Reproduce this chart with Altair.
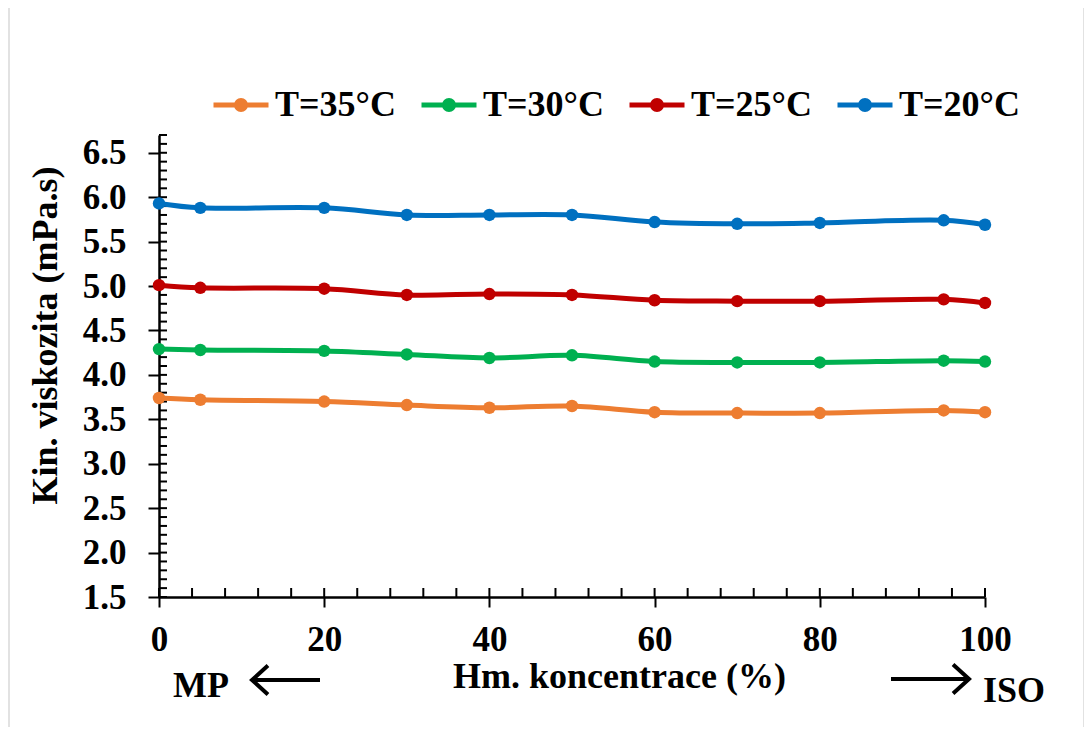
import altair as alt
import pandas as pd

# ---- data ----
conc = [0, 5, 20, 30, 40, 50, 60, 70, 80, 95, 100]
t35 = [3.74, 3.72, 3.70, 3.66, 3.63, 3.65, 3.58, 3.57, 3.57, 3.60, 3.58]
t30 = [4.29, 4.28, 4.27, 4.23, 4.19, 4.22, 4.15, 4.14, 4.14, 4.16, 4.15]
t25 = [5.01, 4.98, 4.97, 4.90, 4.91, 4.90, 4.84, 4.83, 4.83, 4.85, 4.81]
t20 = [5.93, 5.88, 5.88, 5.80, 5.80, 5.80, 5.72, 5.70, 5.71, 5.74, 5.69]
series_names = ["T=35°C", "T=30°C", "T=25°C", "T=20°C"]
series_colors = ["#ED7D31", "#00B050", "#C00000", "#0070C0"]

x_major = [0, 20, 40, 60, 80, 100]
y_major = [1.5, 2.0, 2.5, 3.0, 3.5, 4.0, 4.5, 5.0, 5.5, 6.0, 6.5]
x_minor = list(range(0, 101, 4))
y_minor = [round(1.5 + 0.1 * i, 1) for i in range(53)]

rows = []
for name, vals in zip(series_names, [t35, t30, t25, t20]):
    for c, v in zip(conc, vals):
        rows.append({"c": c, "v": v, "s": name})
df = pd.DataFrame(rows)

W, H = 826, 462
FONT = "Liberation Serif"

xscale = alt.Scale(domain=[0, 100], nice=False, zero=False)
yscale = alt.Scale(domain=[1.5, 6.7], nice=False, zero=False)
cscale = alt.Scale(domain=series_names, range=series_colors)

legend_path = ("M-1,0L1,0"
               "M-0.0727,0A0.0727,0.0727,0,1,0,0.0727,0A0.0727,0.0727,0,1,0,-0.0727,0"
               "M-0.1636,0A0.1636,0.1636,0,1,0,0.1636,0A0.1636,0.1636,0,1,0,-0.1636,0")

xaxis = alt.Axis(values=x_major, title="Hm. koncentrace (%)", titleX=460, titleY=90,
                 titleBaseline="alphabetic", titleAlign="center", labelFlush=False,
                 tickSize=10, labelPadding=15, format="d")
yaxis = alt.Axis(values=y_major, format=".1f", title="Kin. viskozita (mPa.s)",
                 titleAngle=-90, titleX=-114, titleY=200, titleAlign="center",
                 titleBaseline="middle", tickSize=11, labelPadding=22, labelFlush=False)

base = alt.Chart(df)
lines = base.mark_line(interpolate="catmull-rom", strokeWidth=5).encode(
    x=alt.X("c:Q", scale=xscale, axis=xaxis),
    y=alt.Y("v:Q", scale=yscale, axis=yaxis),
    color=alt.Color("s:N", scale=cscale, sort=series_names, legend=alt.Legend(
        title=None, orient="none", legendX=52, legendY=-60, direction="horizontal",
        columns=4, symbolType=legend_path, symbolSize=3025, symbolStrokeWidth=5,
        labelFont=FONT, labelFontSize=36, labelFontWeight="bold", labelColor="black",
        labelOffset=4, columnPadding=15)),
)
points = base.mark_circle(size=155, opacity=1).encode(
    x=alt.X("c:Q", scale=xscale),
    y=alt.Y("v:Q", scale=yscale),
    color=alt.Color("s:N", scale=cscale, legend=None),
)

yt = alt.Chart(pd.DataFrame({"v": y_minor})).mark_rule(color="black", strokeWidth=2).encode(
    y=alt.Y("v:Q", scale=yscale), x=alt.value(0), x2=alt.value(8))
xt = alt.Chart(pd.DataFrame({"c": x_minor})).mark_rule(color="black", strokeWidth=2).encode(
    x=alt.X("c:Q", scale=xscale), y=alt.value(H - 9), y2=alt.value(H))

one = pd.DataFrame({"a": [0]})
frame = alt.Chart(one).mark_rect(fillOpacity=0, stroke="#d9d9d9", strokeWidth=1.5).encode(
    x=alt.value(-150), x2=alt.value(925), y=alt.value(-131), y2=alt.value(640))
txt_style = dict(font=FONT, fontSize=36, fontWeight="bold", color="black", baseline="alphabetic")
mp = alt.Chart(one).mark_text(align="left", **txt_style).encode(
    x=alt.value(14), y=alt.value(562), text=alt.value("MP"))
iso = alt.Chart(one).mark_text(align="left", **txt_style).encode(
    x=alt.value(824), y=alt.value(567), text=alt.value("ISO"))
shaft_l = alt.Chart(one).mark_rule(color="black", strokeWidth=4).encode(
    x=alt.value(94), x2=alt.value(161), y=alt.value(545))
shaft_r = alt.Chart(one).mark_rule(color="black", strokeWidth=4).encode(
    x=alt.value(732), x2=alt.value(809), y=alt.value(544))
head_l = alt.Chart(one).mark_point(shape="M1.1,-1L0,0L1.1,1", size=841, filled=False,
                                   stroke="black", strokeWidth=4, opacity=1).encode(
    x=alt.value(93), y=alt.value(545))
head_r = alt.Chart(one).mark_point(shape="M-1.1,-1L0,0L-1.1,1", size=841, filled=False,
                                   stroke="black", strokeWidth=4, opacity=1).encode(
    x=alt.value(810), y=alt.value(544))

chart = alt.layer(frame, yt, xt, lines, points, mp, iso, shaft_l, shaft_r, head_l, head_r).properties(
    width=W, height=H,
    autosize=alt.AutoSizeParams(type="none"),
    padding={"left": 151, "top": 127, "right": 99, "bottom": 130},
).configure_view(stroke=None).configure_axis(
    grid=False, domainColor="black", domainWidth=2.5, tickColor="black", tickWidth=2,
    labelFont=FONT, labelFontSize=35, labelFontWeight="bold", labelColor="black",
    titleFont=FONT, titleFontSize=36, titleFontWeight="bold", titleColor="black",
)

chart.save("out.html", embed_options={"renderer": "svg", "actions": False})
